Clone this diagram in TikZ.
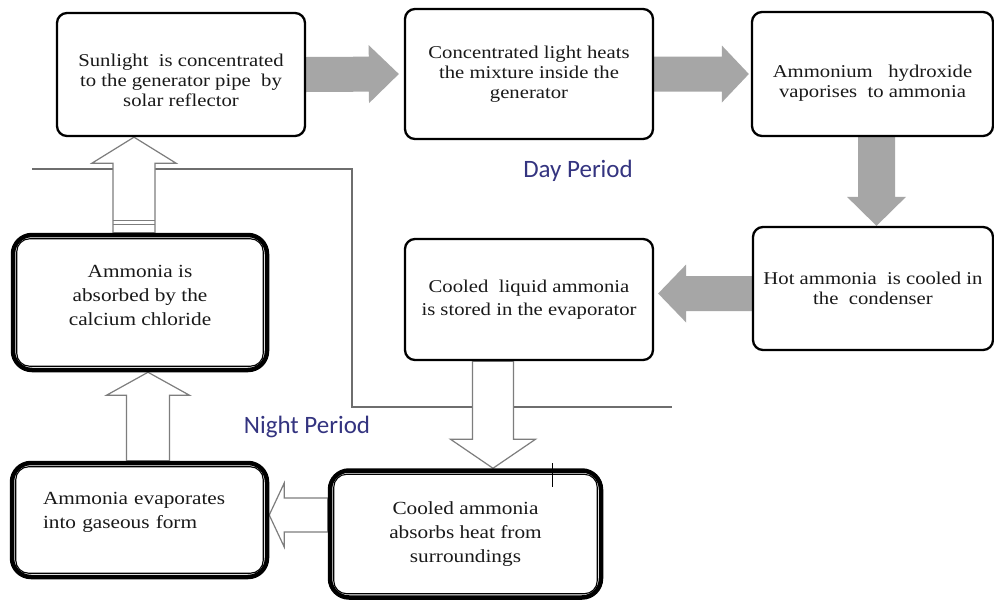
\documentclass[tikz,border=0pt]{standalone}
\usepackage{fontspec}
\setmainfont{Liberation Serif}[FakeStretch=1.15]
\newfontfamily\periodfont{Carlito}
\usetikzlibrary{calc}
\pgfdeclarelayer{background}
\pgfdeclarelayer{arrowlayer}
\pgfsetlayers{background,arrowlayer,main}
\definecolor{arrowgray}{RGB}{166,166,166}
\definecolor{outlinegray}{RGB}{125,125,125}
\definecolor{periodblue}{RGB}{52,52,128}
\definecolor{textgray}{RGB}{25,25,25}
\definecolor{linegray}{RGB}{110,110,110}
% block arrow: #1 style, #2 start, #3 end (tip), #4 shaft half width, #5 head half width, #6 head length
\newcommand\blockarrow[6][]{%
  \coordinate (ba-c) at ($(#3)!#6!(#2)$);
  \path[#1] ($(#2)!#4!90:(#3)$) -- ($(ba-c)!#4!90:(#3)$) -- ($(ba-c)!#5!90:(#3)$)
    -- (#3) -- ($(ba-c)!#5!-90:(#3)$) -- ($(ba-c)!#4!-90:(#3)$) -- ($(#2)!#4!-90:(#3)$) -- cycle;}
\begin{document}
\begin{tikzpicture}[x=1pt,y=-1pt,
  daybox/.style={draw=black, line width=2.3pt, rounded corners=10pt, fill=white,
    align=center, text=textgray, font=\fontsize{18}{20}\selectfont},
  nightbox/.style={draw=black, line width=4.5pt, rounded corners=19pt, fill=white,
    align=center, text=textgray, font=\fontsize{18.5}{24}\selectfont},
  nightinner/.style={draw=black, line width=1.1pt, rounded corners=13pt},
  grayarrow/.style={fill=arrowgray},
  hollowarrow/.style={draw=outlinegray, fill=white, line width=1.2pt, line join=miter},
  boundary/.style={draw=linegray, line width=1.1pt},
  band/.style={draw=outlinegray, line width=1pt},
  tick/.style={draw=black, line width=1pt},
  periodlabel/.style={font=\periodfont\fontsize{25}{28}\selectfont, text=periodblue}]
\begin{pgfonlayer}{background}
\fill[white] (0,0) rectangle (994,603);
\end{pgfonlayer}
\useasboundingbox (0,0) rectangle (994,603);

% boxes
\node[daybox, minimum width=248pt, minimum height=123pt] (b1) at (181,74.5)
  {\rule{0pt}{25pt}Sunlight\ \ is concentrated\\to the generator pipe\ \ by\\solar reflector};
\node[daybox, minimum width=248pt, minimum height=130pt] (b2) at (529,74)
  {Concentrated light heats\\the mixture inside the\\generator};
\node[daybox, minimum width=241pt, minimum height=124pt] (b3) at (872.5,74)
  {\rule{0pt}{31pt}Ammonium\ \ \ hydroxide\\vaporises\ \ to ammonia};
\node[daybox, minimum width=240pt, minimum height=123pt] (b4) at (873,288.5)
  {Hot ammonia\ \ is cooled in\\the\ \ condenser};
\node[daybox, minimum width=248pt, minimum height=121pt, font=\fontsize{18}{23}\selectfont] (b5) at (529,299.5)
  {Cooled\ \ liquid ammonia\\is stored in the evaporator};
\node[nightbox, minimum width=271pt, minimum height=127pt] (b6) at (465.5,534)
  {Cooled ammonia\\absorbs heat from\\surroundings};
\node[nightbox, minimum width=255pt, minimum height=114pt, align=left, text width=193pt] (b7) at (139.5,520)
  {Ammonia evaporates\\into gaseous form\rule[-20pt]{0pt}{20pt}};
\node[nightbox, minimum width=254pt, minimum height=135pt] (b8) at (140,302.5)
  {Ammonia is\\absorbed by the\\calcium chloride\rule[-14pt]{0pt}{14pt}};

\foreach \b in {b6,b7,b8}{
  \draw[nightinner] ([shift={(6pt,-6pt)}]\b.north west) rectangle ([shift={(-6pt,6pt)}]\b.south east);
}

% period labels
\node[periodlabel] (day) at (578,171) {Day Period};
\node[periodlabel] (night) at (307,427) {Night Period};

% tick mark on evaporator box
\coordinate (tk1) at (552,463);
\coordinate (tk2) at (552,487);
\draw[tick] (tk1) -- (tk2);

\begin{pgfonlayer}{arrowlayer}
% day / night boundary
\coordinate (bl1) at (32,169);
\coordinate (bl2) at (352,169);
\coordinate (bl3) at (352,407);
\coordinate (bl4) at (672,407);
\draw[boundary] (bl1) -- (bl2) -- (bl3) -- (bl4);

% grey block arrows (day)
\coordinate (a1s) at (b1.east);
\coordinate (a1e) at ([xshift=-5pt]b2.west);
\blockarrow[grayarrow]{a1s}{a1e}{17.5pt}{29pt}{30pt}
\coordinate (a2s) at (b2.east);
\coordinate (a2e) at ([xshift=-2pt]b3.west);
\blockarrow[grayarrow]{a2s}{a2e}{17.5pt}{28.5pt}{27pt}
\coordinate (a3s) at ([xshift=4pt]b3.south);
\coordinate (a3e) at (a3s |- b4.north);
\blockarrow[grayarrow]{a3s}{a3e}{18.5pt}{29.5pt}{29pt}
\coordinate (a4s) at ([yshift=-5pt]b4.west);
\coordinate (a4e) at ($(b5.east |- a4s)+(4pt,0)$);
\blockarrow[grayarrow]{a4s}{a4e}{17.5pt}{29pt}{28pt}

% hollow block arrows (night)
\coordinate (h1s) at ([xshift=-6pt]b8.north);
\coordinate (h1e) at (h1s |- b1.south);
\blockarrow[hollowarrow]{h1s}{h1e}{21pt}{42pt}{26pt}
\draw[band] ($(h1s)+(-21pt,12pt)$) -- ($(h1s)+(21pt,12pt)$);
\draw[band] ($(h1s)+(-21pt,8pt)$) -- ($(h1s)+(21pt,8pt)$);
\coordinate (h2s) at ([xshift=8.5pt]b7.north);
\coordinate (h2e) at (h2s |- b8.south);
\blockarrow[hollowarrow]{h2s}{h2e}{21.5pt}{41.5pt}{23pt}
\coordinate (h3s) at ([xshift=-36pt]b5.south);
\coordinate (h3e) at (h3s |- b6.north);
\blockarrow[hollowarrow]{h3s}{h3e}{20.5pt}{42.5pt}{29pt}
\coordinate (h4s) at ([yshift=19pt]b6.west);
\coordinate (h4e) at (b7.east |- h4s);
\blockarrow[hollowarrow]{h4s}{h4e}{17pt}{32pt}{15pt}
\end{pgfonlayer}
\end{tikzpicture}
\end{document}
